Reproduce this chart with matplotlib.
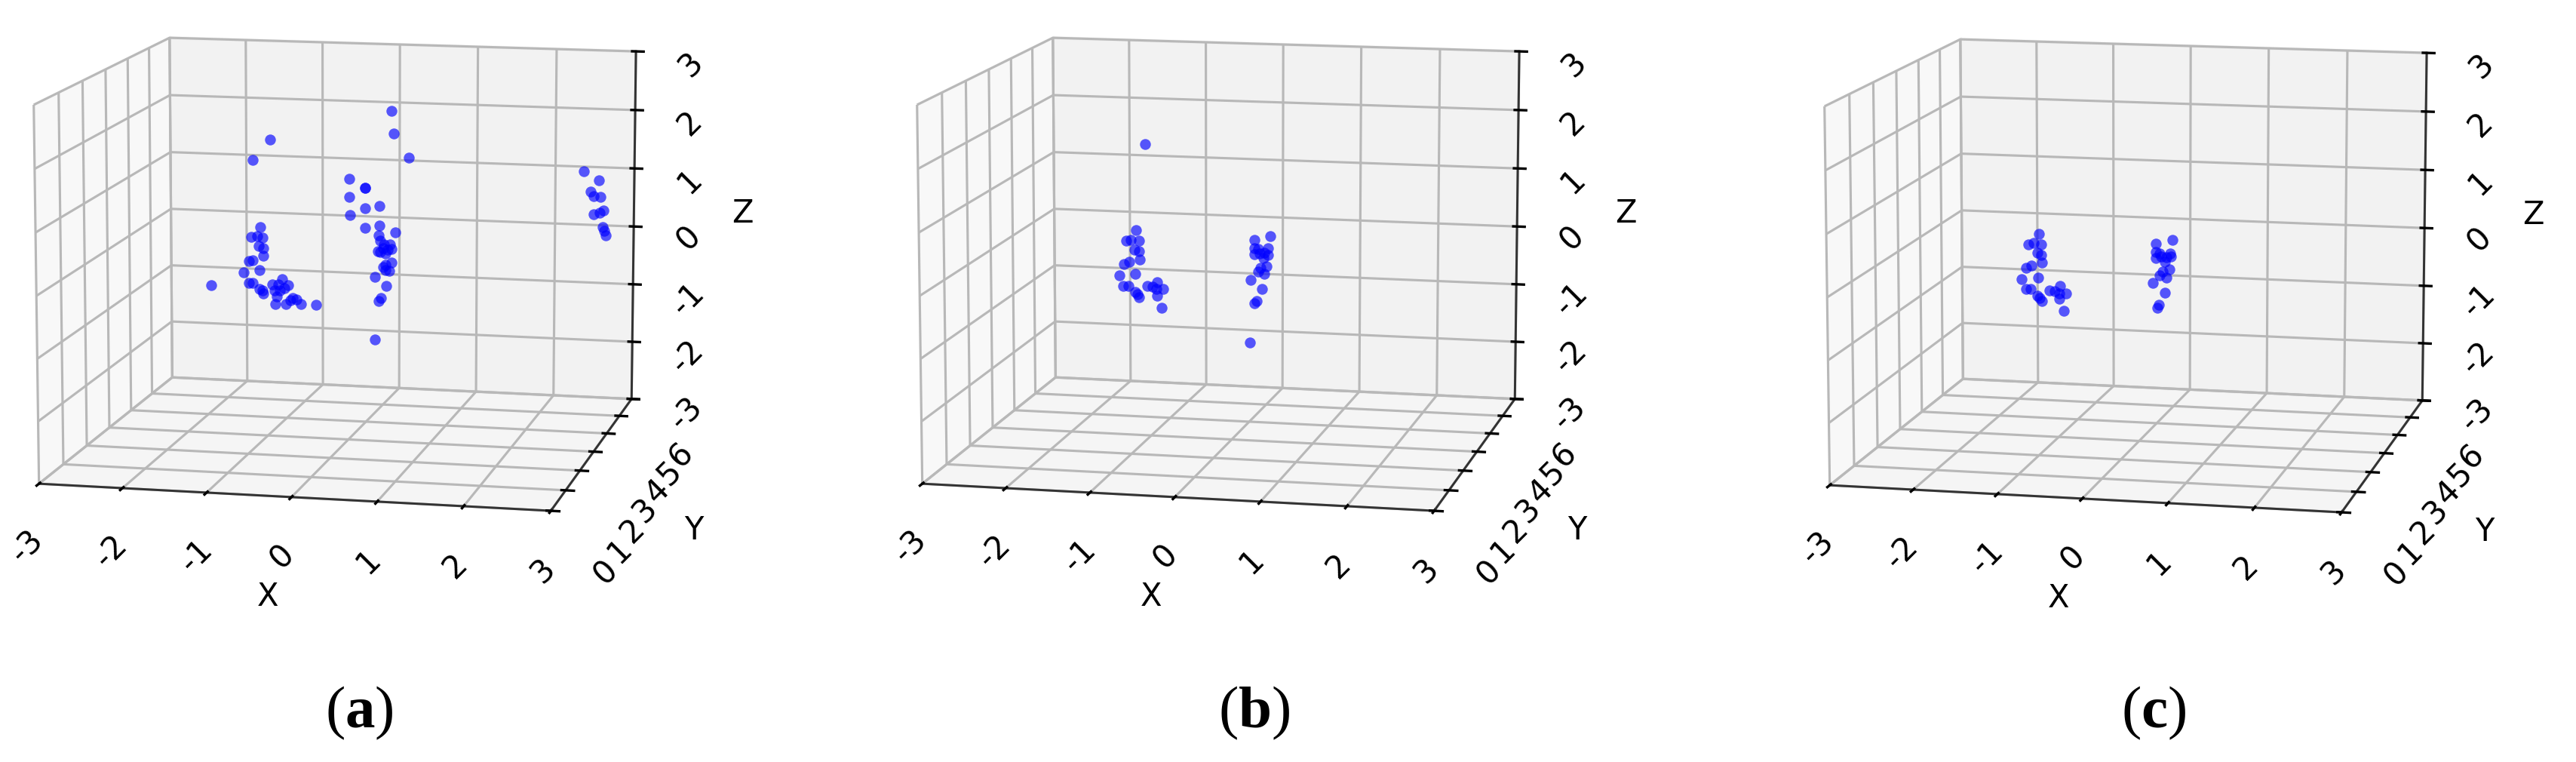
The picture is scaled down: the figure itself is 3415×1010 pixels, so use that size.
import matplotlib
matplotlib.use("Agg")
import matplotlib.pyplot as plt

# axis ticks
x_ticks = [-3, -2, -1, 0, 1, 2, 3]
y_ticks = [0, 1, 2, 3, 4, 5, 6]
z_ticks = [-3, -2, -1, 0, 1, 2, 3]
x_tick_labels = ["-3", "-2", "-1", "0", "1", "2", "3"]
y_tick_labels = ["0", "1", "2", "3", "4", "5", "6"]
z_tick_labels = ["-3", "-2", "-1", "0", "1", "2", "3"]
captions = ["a", "b", "c"]

# points read against the grid of the back wall (y = 6)
xa = [-1.69, -1.92, -2.47, -1.82, -1.94, -1.86, -1.79, -1.84, -1.78, -1.78, -1.92, -1.97,
      -2.04, -1.83, -1.97, -1.92, -1.83, -1.78, -1.79, -1.66, -1.53, -1.58, -1.46, -1.63,
      -1.56, -1.60, -1.51, -1.63, -1.49, -1.40, -1.43, -1.35, -1.29, -1.09,
      -0.11, -0.08, 0.12, -0.65, -0.45, -0.45, -0.65, -0.45, -0.26, -0.64, -0.45, -0.26,
      -0.06, -0.27, -0.25, -0.12, -0.28, -0.21, -0.15, -0.10, -0.18, -0.25, -0.20, -0.10,
      -0.18, -0.21, -0.13, -0.18, -0.32, -0.17, -0.24, -0.27, -0.32,
      2.36, 2.55, 2.45, 2.49, 2.57, 2.49, 2.57, 2.61, 2.61, 2.63, 2.65]
za = [1.28, 0.92, -1.33, -0.26, -0.44, -0.42, -0.45, -0.59, -0.63, -0.77, -0.85, -0.87,
      -1.07, -1.02, -1.25, -1.25, -1.36, -1.43, -1.38, -1.26, -1.17, -1.26, -1.27, -1.37,
      -1.37, -1.48, -1.32, -1.61, -1.60, -1.49, -1.53, -1.51, -1.59, -1.59,
      1.85, 1.46, 1.05, 0.65, 0.49, 0.49, 0.33, 0.14, 0.19, 0.01, -0.20, -0.15,
      -0.26, -0.33, -0.42, -0.48, -0.60, -0.55, -0.57, -0.55, -0.64, -0.62, -0.48, -0.79,
      -0.84, -0.88, -0.94, -0.93, -1.05, -1.21, -1.43, -1.48, -2.16,
      0.92, 0.78, 0.57, 0.50, 0.49, 0.19, 0.22, 0.26, -0.03, -0.09, -0.17]

xb = [-1.80, -1.92, -2.05, -1.99, -1.88, -1.94, -1.88, -1.87, -2.01, -2.08, -2.14, -1.93,
      -2.09, -2.02, -1.93, -1.90, -1.88, -1.77, -1.70, -1.64, -1.65, -1.56, -1.64, -1.59,
      -0.16, -0.37, -0.37, -0.19, -0.37, -0.30, -0.24, -0.19, -0.32, -0.25, -0.21, -0.29,
      -0.32, -0.24, -0.42, -0.27, -0.34, -0.37, -0.43]
zb = [1.20, -0.32, -0.51, -0.49, -0.51, -0.66, -0.69, -0.84, -0.88, -0.93, -1.13, -1.09,
      -1.31, -1.31, -1.42, -1.45, -1.50, -1.30, -1.31, -1.23, -1.34, -1.34, -1.46, -1.67,
      -0.33, -0.41, -0.56, -0.54, -0.66, -0.64, -0.63, -0.66, -0.57, -0.72, -0.86, -0.89,
      -0.96, -1.00, -1.11, -1.27, -1.48, -1.53, -2.22]

xc = [-1.98, -2.12, -2.05, -1.95, -2.00, -1.95, -1.94, -2.08, -2.15, -2.21, -1.99, -2.15,
      -2.09, -2.00, -1.97, -1.94, -1.84, -1.77, -1.70, -1.71, -1.62, -1.71, -1.66,
      -0.23, -0.45, -0.45, -0.26, -0.45, -0.38, -0.31, -0.25, -0.40, -0.33, -0.27, -0.36,
      -0.40, -0.31, -0.49, -0.33, -0.41, -0.43]
zc = [-0.36, -0.55, -0.53, -0.55, -0.69, -0.73, -0.87, -0.93, -0.97, -1.17, -1.13, -1.34,
      -1.34, -1.46, -1.50, -1.55, -1.35, -1.36, -1.27, -1.40, -1.39, -1.50, -1.70,
      -0.37, -0.45, -0.60, -0.61, -0.71, -0.68, -0.68, -0.67, -0.62, -0.77, -0.90, -0.94,
      -1.01, -1.04, -1.15, -1.31, -1.52, -1.58]

W, H = 3415, 1010
AX_SIZE = 1026
CENTERS = [(448, 358), (1619, 358), (2822, 360)]
CAPTION_X = [476, 1663, 2855]
CAPTION_Y = 945


def draw_panel(fig, center, xs, zs):
    cx, cy = center
    rect = [(cx - AX_SIZE / 2) / W, 1 - (cy + AX_SIZE / 2) / H, AX_SIZE / W, AX_SIZE / H]
    ax = fig.add_axes(rect, projection="3d")
    ax.patch.set_alpha(0)
    ax.set_box_aspect((4, 4, 2.95))
    ax.view_init(elev=10.5, azim=-77.5)
    ax.scatter(xs, [6] * len(xs), zs, s=12, c="blue", alpha=0.65, linewidths=0, depthshade=False)
    ax.set_xlim(-3, 3)
    ax.set_ylim(0, 6)
    ax.set_zlim(-3, 3)
    ax.set_xticks(x_ticks)
    ax.set_yticks(y_ticks)
    ax.set_zticks(z_ticks)
    ax.set_xticklabels(x_tick_labels, rotation=45, fontsize=10)
    ax.set_yticklabels(y_tick_labels, rotation=45, fontsize=10)
    ax.set_zticklabels(z_tick_labels, rotation=45, fontsize=10)
    ax.tick_params(axis="x", pad=2.5)
    ax.tick_params(axis="y", pad=5.5)
    ax.tick_params(axis="z", pad=5)
    ax.set_xlabel("X", fontsize=10, labelpad=4)
    ax.set_ylabel("Y", fontsize=10, labelpad=5)
    ax.set_zlabel("Z", fontsize=10, labelpad=5)
    for axis in (ax.xaxis, ax.yaxis, ax.zaxis):
        axis._axinfo["grid"]["linewidth"] = 0.75
        axis._axinfo["grid"]["color"] = "#b8b8b8"
        axis.line.set_linewidth(0.7)
        axis.line.set_color("#333333")
    return ax


def main():
    plt.rcParams["mathtext.fontset"] = "custom"
    plt.rcParams["mathtext.bf"] = "Liberation Serif:bold"
    plt.rcParams["mathtext.rm"] = "Liberation Serif"

    fig = plt.figure(figsize=(W / 300, H / 300), dpi=300)
    panels = [(xa, za), (xb, zb), (xc, zc)]
    for center, (xs, zs) in zip(CENTERS, panels):
        draw_panel(fig, center, xs, zs)

    for x, name in zip(CAPTION_X, captions):
        fig.text(x / W, 1 - CAPTION_Y / H, "(" + r"$\mathbf{" + name + "}$" + ")",
                 family="Liberation Serif", fontsize=19, ha="center", va="center")

    fig.savefig("out.png", dpi=300)
    plt.close(fig)


if __name__ == "__main__":
    main()
